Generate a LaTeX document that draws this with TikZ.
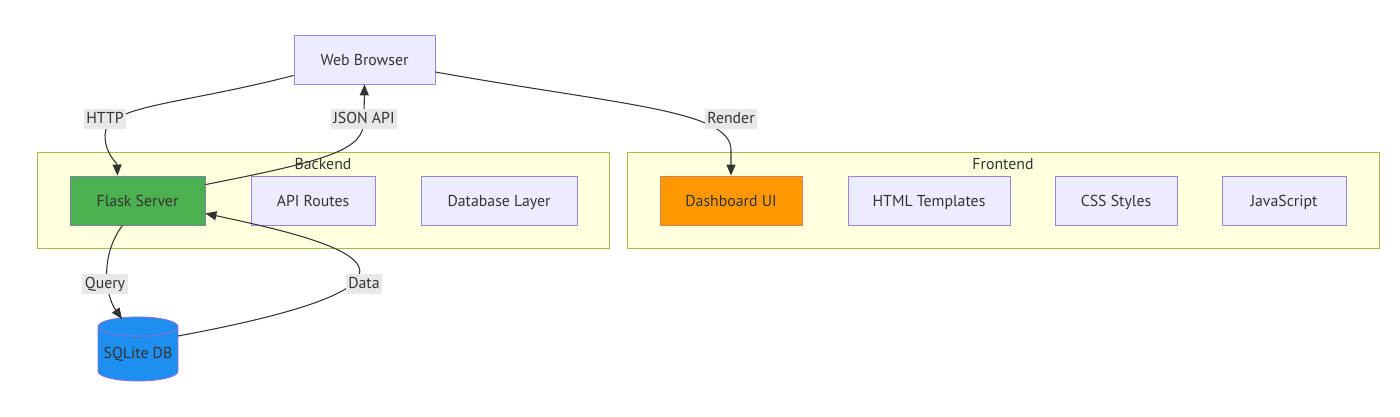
\documentclass[tikz,border=0pt]{standalone}
\usepackage{fontspec}
\setmainfont{PT Sans}
\usetikzlibrary{arrows.meta, calc, shapes.geometric}

\definecolor{boxfill}{HTML}{ECECFF}
\definecolor{boxline}{HTML}{9C84DC}
\definecolor{groupfill}{HTML}{FFFFDE}
\definecolor{groupline}{HTML}{B4B44A}
\definecolor{flaskfill}{HTML}{4CAF50}
\definecolor{flaskline}{HTML}{7486A0}
\definecolor{dashfill}{HTML}{FF9800}
\definecolor{dashline}{HTML}{C8835A}
\definecolor{dbfill}{HTML}{1E8FF0}
\definecolor{dbline}{HTML}{8A6FD8}
\definecolor{labelbg}{HTML}{E8E8E8}
\definecolor{inkc}{HTML}{333333}

\begin{document}
\begin{tikzpicture}[x=0.02cm, y=-0.02cm, >={Triangle[length=2.2mm, width=1.8mm]},
  every node/.style={font=\fontsize{9}{11}\selectfont, text=inkc},
  comp/.style={draw=boxline, fill=boxfill, line width=0.5pt, minimum height=0.98cm, inner sep=0pt,
    text height=7.8pt, text depth=0.8pt},
  group/.style={draw=groupline, fill=groupfill, line width=0.5pt},
  link/.style={->, draw=inkc, line width=0.6pt},
  tag/.style={fill=labelbg, inner sep=1.5pt, text height=6.6pt, text depth=1.8pt}]
  \useasboundingbox (0,0) rectangle (1400,416);
  % clusters
  \draw[group] (37,152) rectangle (609,248);
  \node (backendtitle) at (323,164) {Backend};
  \draw[group] (627,152) rectangle (1379,248);
  \node (frontendtitle) at (1003,164) {Frontend};
  % components
  \node[comp, minimum width=2.82cm] (browser) at (364.5,59.5) {Web Browser};
  \node[comp, minimum width=2.70cm, fill=flaskfill, draw=flaskline] (flask) at (137.5,200.5) {Flask Server};
  \node[comp, minimum width=2.48cm] (routes) at (313,200.5) {API Routes};
  \node[comp, minimum width=3.12cm] (dblayer) at (499,200.5) {Database Layer};
  \node[comp, minimum width=2.84cm, fill=dashfill, draw=dashline] (dashboard) at (731,200.5) {Dashboard UI};
  \node[comp, minimum width=3.24cm] (templates) at (929,200.5) {HTML Templates};
  \node[comp, minimum width=2.44cm] (styles) at (1116,200.5) {CSS Styles};
  \node[comp, minimum width=2.48cm] (scripts) at (1284,200.5) {JavaScript};
  \node[cylinder, shape border rotate=90, aspect=0.28, draw=dbline, fill=dbfill, line width=0.5pt,
    minimum width=1.6cm, minimum height=1.28cm, inner sep=0pt] (sqlite) at (138,354) {SQLite DB};
  % connectors
  \draw[link] ($(browser.south west)+(0,-9)$) .. controls (180,105) and (105,105) .. (105,135)
    .. controls (105,155) and (117,162) .. ($(flask.north)+(-20,0)$);
  \draw[link] ($(flask.north east)+(0,9)$) .. controls (330,160) and (364,150) .. (364,120) -- (browser.south);
  \draw[link] ($(browser.east)+(0,12.5)$) .. controls (620,105) and (731,110) .. (731,150) -- (dashboard.north);
  \draw[link] ($(flask.south)+(-15,0)$) .. controls (100,255) and (105,295) .. ($(sqlite.center)+(-16,-35)$);
  \draw[link] ($(sqlite.center)+(40,-18)$) .. controls (490,278) and (330,240) .. ($(flask.south east)+(0,-12)$);
  % edge labels
  \node[tag] (httptag) at (105,119) {HTTP};
  \node[tag] (jsontag) at (364,119) {JSON API};
  \node[tag] (rendertag) at (731,119) {Render};
  \node[tag] (querytag) at (105,284) {Query};
  \node[tag] (datatag) at (364,284) {Data};
\end{tikzpicture}
\end{document}
